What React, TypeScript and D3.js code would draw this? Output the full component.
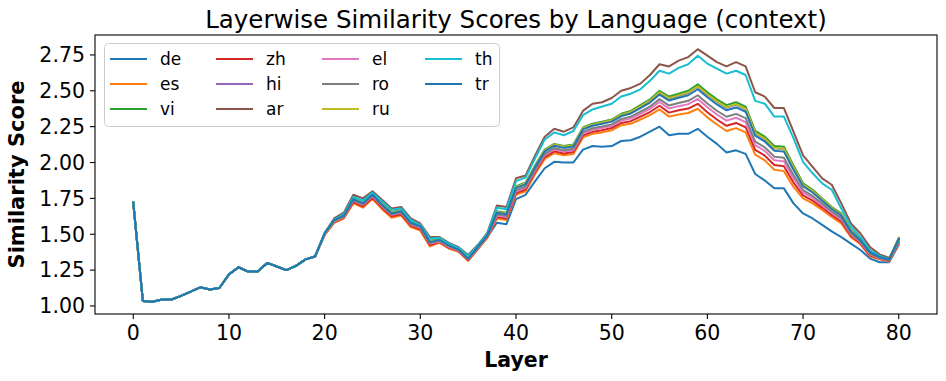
import * as d3 from "d3";

// layers 0-19 are shared by every language (lines overlap completely there)
const sharedHead = [1.72, 1.035, 1.03, 1.045, 1.045, 1.07, 1.10, 1.13, 1.115, 1.125, 1.22, 1.27, 1.24, 1.24, 1.30, 1.275, 1.25, 1.28, 1.325, 1.345];

// layers 20-80 per language
const deTail = [
  1.50, 1.59, 1.62, 1.73, 1.70, 1.76, 1.69, 1.63, 1.645, 1.565,
  1.54, 1.43, 1.45, 1.41, 1.385, 1.32, 1.40, 1.48, 1.58, 1.57,
  1.745, 1.775, 1.87, 1.96, 2.005, 2.00, 2.00, 2.09, 2.115, 2.11,
  2.115, 2.15, 2.155, 2.18, 2.215, 2.25, 2.19, 2.20, 2.20, 2.235,
  2.18, 2.13, 2.07, 2.085, 2.06, 1.92, 1.875, 1.82, 1.82, 1.715,
  1.645, 1.61, 1.565, 1.52, 1.48, 1.435, 1.39, 1.33, 1.305, 1.305,
  1.425,
];
const esTail = [
  1.493, 1.58, 1.61, 1.715, 1.685, 1.745, 1.675, 1.615, 1.63, 1.55,
  1.525, 1.415, 1.44, 1.40, 1.378, 1.315, 1.395, 1.475, 1.61, 1.60,
  1.775, 1.80, 1.92, 2.025, 2.065, 2.05, 2.06, 2.175, 2.20, 2.21,
  2.225, 2.26, 2.27, 2.30, 2.33, 2.37, 2.32, 2.335, 2.345, 2.375,
  2.315, 2.265, 2.22, 2.24, 2.21, 2.055, 2.015, 1.95, 1.94, 1.83,
  1.75, 1.715, 1.67, 1.62, 1.575, 1.48, 1.43, 1.345, 1.325, 1.31,
  1.435,
];
const viTail = [
  1.505, 1.595, 1.635, 1.755, 1.725, 1.78, 1.715, 1.655, 1.67, 1.59,
  1.56, 1.455, 1.465, 1.425, 1.395, 1.34, 1.415, 1.50, 1.66, 1.65,
  1.835, 1.86, 1.98, 2.09, 2.13, 2.115, 2.125, 2.245, 2.27, 2.285,
  2.30, 2.34, 2.36, 2.40, 2.44, 2.50, 2.46, 2.48, 2.50, 2.545,
  2.49, 2.44, 2.40, 2.42, 2.39, 2.22, 2.18, 2.115, 2.11, 1.98,
  1.855, 1.81, 1.75, 1.69, 1.645, 1.53, 1.465, 1.38, 1.345, 1.325,
  1.475,
];
const zhTail = [
  1.497, 1.585, 1.615, 1.725, 1.695, 1.755, 1.685, 1.625, 1.64, 1.56,
  1.535, 1.425, 1.445, 1.405, 1.382, 1.318, 1.398, 1.48, 1.62, 1.61,
  1.787, 1.812, 1.932, 2.038, 2.078, 2.063, 2.073, 2.189, 2.214, 2.225,
  2.24, 2.276, 2.288, 2.32, 2.352, 2.396, 2.348, 2.364, 2.376, 2.409,
  2.35, 2.30, 2.256, 2.276, 2.246, 2.088, 2.048, 1.983, 1.974, 1.86,
  1.771, 1.734, 1.686, 1.634, 1.589, 1.49, 1.437, 1.352, 1.329, 1.313,
  1.443,
];
const hiTail = [
  1.502, 1.592, 1.63, 1.75, 1.72, 1.775, 1.71, 1.65, 1.665, 1.585,
  1.555, 1.45, 1.46, 1.42, 1.392, 1.335, 1.41, 1.495, 1.655, 1.645,
  1.829, 1.854, 1.974, 2.084, 2.124, 2.109, 2.119, 2.238, 2.263, 2.278,
  2.293, 2.332, 2.351, 2.39, 2.429, 2.487, 2.446, 2.466, 2.485, 2.528,
  2.473, 2.423, 2.382, 2.402, 2.372, 2.204, 2.164, 2.099, 2.093, 1.965,
  1.845, 1.80, 1.742, 1.683, 1.638, 1.525, 1.462, 1.377, 1.343, 1.324,
  1.471,
];
const arTail = [
  1.51, 1.61, 1.65, 1.775, 1.75, 1.80, 1.74, 1.68, 1.69, 1.61,
  1.575, 1.48, 1.48, 1.44, 1.41, 1.355, 1.425, 1.51, 1.70, 1.69,
  1.89, 1.91, 2.05, 2.18, 2.235, 2.215, 2.245, 2.36, 2.41, 2.42,
  2.45, 2.50, 2.52, 2.55, 2.61, 2.685, 2.67, 2.71, 2.735, 2.79,
  2.745, 2.70, 2.67, 2.70, 2.67, 2.49, 2.46, 2.38, 2.38, 2.215,
  2.05, 1.97, 1.89, 1.845, 1.715, 1.575, 1.505, 1.41, 1.36, 1.335,
  1.46,
];
const elTail = [
  1.50, 1.59, 1.62, 1.735, 1.705, 1.765, 1.695, 1.635, 1.65, 1.57,
  1.545, 1.435, 1.45, 1.41, 1.387, 1.325, 1.402, 1.485, 1.63, 1.62,
  1.799, 1.824, 1.944, 2.051, 2.091, 2.076, 2.086, 2.203, 2.228, 2.24,
  2.255, 2.292, 2.306, 2.34, 2.374, 2.422, 2.376, 2.393, 2.407, 2.443,
  2.385, 2.335, 2.292, 2.312, 2.282, 2.121, 2.081, 2.016, 2.008, 1.89,
  1.792, 1.753, 1.702, 1.648, 1.603, 1.50, 1.444, 1.359, 1.333, 1.316,
  1.451,
];
const roTail = [
  1.503, 1.594, 1.625, 1.74, 1.71, 1.77, 1.70, 1.64, 1.655, 1.575,
  1.55, 1.44, 1.455, 1.415, 1.39, 1.328, 1.405, 1.488, 1.638, 1.628,
  1.808, 1.833, 1.953, 2.061, 2.101, 2.086, 2.096, 2.214, 2.239, 2.251,
  2.266, 2.304, 2.32, 2.355, 2.39, 2.442, 2.397, 2.415, 2.43, 2.469,
  2.411, 2.361, 2.319, 2.339, 2.309, 2.146, 2.106, 2.041, 2.034, 1.913,
  1.808, 1.767, 1.714, 1.659, 1.614, 1.508, 1.449, 1.364, 1.336, 1.318,
  1.457,
];
const ruTail = [
  1.502, 1.592, 1.63, 1.75, 1.72, 1.775, 1.71, 1.65, 1.665, 1.585,
  1.555, 1.45, 1.46, 1.42, 1.392, 1.335, 1.41, 1.495, 1.656, 1.646,
  1.83, 1.855, 1.975, 2.085, 2.125, 2.11, 2.12, 2.239, 2.264, 2.279,
  2.294, 2.334, 2.353, 2.392, 2.431, 2.49, 2.449, 2.468, 2.488, 2.531,
  2.476, 2.426, 2.386, 2.406, 2.376, 2.207, 2.167, 2.102, 2.096, 1.968,
  1.847, 1.802, 1.744, 1.684, 1.639, 1.526, 1.462, 1.377, 1.343, 1.324,
  1.472,
];
const thTail = [
  1.51, 1.60, 1.64, 1.76, 1.735, 1.79, 1.73, 1.67, 1.68, 1.60,
  1.565, 1.47, 1.475, 1.435, 1.405, 1.35, 1.42, 1.505, 1.685, 1.675,
  1.87, 1.895, 2.03, 2.16, 2.21, 2.19, 2.22, 2.33, 2.37, 2.39,
  2.41, 2.46, 2.48, 2.51, 2.57, 2.64, 2.62, 2.66, 2.685, 2.745,
  2.69, 2.655, 2.62, 2.64, 2.61, 2.43, 2.41, 2.32, 2.32, 2.17,
  2.005, 1.925, 1.855, 1.81, 1.68, 1.555, 1.48, 1.39, 1.35, 1.325,
  1.455,
];
const trTail = [
  1.505, 1.597, 1.628, 1.745, 1.715, 1.775, 1.705, 1.645, 1.66, 1.58,
  1.555, 1.445, 1.46, 1.42, 1.393, 1.33, 1.41, 1.49, 1.65, 1.64,
  1.823, 1.848, 1.968, 2.077, 2.117, 2.102, 2.112, 2.231, 2.256, 2.27,
  2.285, 2.324, 2.342, 2.38, 2.418, 2.474, 2.432, 2.451, 2.469, 2.511,
  2.455, 2.405, 2.364, 2.384, 2.354, 2.187, 2.147, 2.082, 2.076, 1.95,
  1.834, 1.791, 1.734, 1.676, 1.631, 1.52, 1.458, 1.373, 1.341, 1.322,
  1.467,
];

const languages = ["de", "es", "vi", "zh", "hi", "ar", "el", "ro", "ru", "th", "tr"];
const tails = [deTail, esTail, viTail, zhTail, hiTail, arTail, elTail, roTail, ruTail, thTail, trTail];
const colors = ["#1f77b4", "#ff7f0e", "#2ca02c", "#d62728", "#9467bd", "#8c564b", "#e377c2", "#7f7f7f", "#bcbd22", "#17becf", "#1f77b4"];

const xTicks = [0, 10, 20, 30, 40, 50, 60, 70, 80];
const yTicks = [1.0, 1.25, 1.5, 1.75, 2.0, 2.25, 2.5, 2.75];

const width = 946;
const height = 381;
const margin = { top: 35, right: 9, bottom: 67, left: 95 };
const font = "DejaVu Sans, sans-serif";

function App() {
  const innerW = width - margin.left - margin.right;
  const innerH = height - margin.top - margin.bottom;

  const series = languages.map((lang, i) => ({
    lang,
    color: colors[i],
    values: [...sharedHead, ...tails[i]],
  }));

  const xScale = d3.scaleLinear().domain([-4, 84]).range([0, innerW]);
  const yScale = d3.scaleLinear().domain([0.944, 2.889]).range([innerH, 0]);

  const line = d3
    .line<number>()
    .x((_, i) => xScale(i))
    .y((d) => yScale(d));

  // legend layout: 3 rows, filled column by column
  const colX = [110, 216, 322, 425];
  const rowY = [59, 84, 109];

  return (
    <svg
      width={width}
      height={height}
      style={{ position: "fixed", left: 0, top: 0, background: "#fff" }}
      fontFamily={font}
    >
      <rect width={width} height={height} fill="#fff" />
      <text x={margin.left + innerW / 2} y={27.5} textAnchor="middle" fontSize={24.5} fill="#000">
        Layerwise Similarity Scores by Language (context)
      </text>

      <g transform={`translate(${margin.left},${margin.top})`}>
        <defs>
          <clipPath id="plot-clip">
            <rect width={innerW} height={innerH} />
          </clipPath>
        </defs>
        <g clipPath="url(#plot-clip)">
          {series.map((s) => (
            <path
              key={s.lang + s.color + s.values[40]}
              d={line(s.values) ?? ""}
              fill="none"
              stroke={s.color}
              strokeWidth={2}
              strokeLinejoin="round"
              strokeLinecap="square"
            />
          ))}
        </g>

        {/* axes frame */}
        <rect width={innerW} height={innerH} fill="none" stroke="#000" strokeWidth={1.1} />

        {xTicks.map((t) => (
          <g key={"x" + t} transform={`translate(${xScale(t)},${innerH})`}>
            <line y2={5} stroke="#000" strokeWidth={1.1} />
            <text y={26} textAnchor="middle" fontSize={20.5} fill="#000">
              {t}
            </text>
          </g>
        ))}
        {yTicks.map((t) => (
          <g key={"y" + t} transform={`translate(0,${yScale(t)})`}>
            <line x2={-5} stroke="#000" strokeWidth={1.1} />
            <text x={-10} dy="0.36em" textAnchor="end" fontSize={20.5} fill="#000">
              {t.toFixed(2)}
            </text>
          </g>
        ))}

        <text
          x={innerW / 2}
          y={innerH + 53}
          textAnchor="middle"
          fontSize={20.5}
          fontWeight="bold"
          fill="#000"
        >
          Layer
        </text>
      </g>

      <text
        transform={`translate(24,${margin.top + innerH / 2}) rotate(-90)`}
        textAnchor="middle"
        fontSize={21}
        fontWeight="bold"
        fill="#000"
      >
        Similarity Score
      </text>

      {/* legend */}
      <g>
        <rect
          x={104.5}
          y={43.5}
          width={395}
          height={83}
          rx={4}
          fill="#fff"
          fillOpacity={0.8}
          stroke="#cccccc"
          strokeWidth={1}
        />
        {series.map((s, i) => {
          const col = Math.floor(i / 3);
          const row = i % 3;
          const x0 = colX[col];
          const y0 = rowY[row];
          return (
            <g key={"leg" + s.lang}>
              <line x1={x0} x2={x0 + 37} y1={y0} y2={y0} stroke={s.color} strokeWidth={2} />
              <text x={x0 + 50} y={y0} dy="0.35em" fontSize={17} fill="#000">
                {s.lang}
              </text>
            </g>
          );
        })}
      </g>
    </svg>
  );
}

export default App;
